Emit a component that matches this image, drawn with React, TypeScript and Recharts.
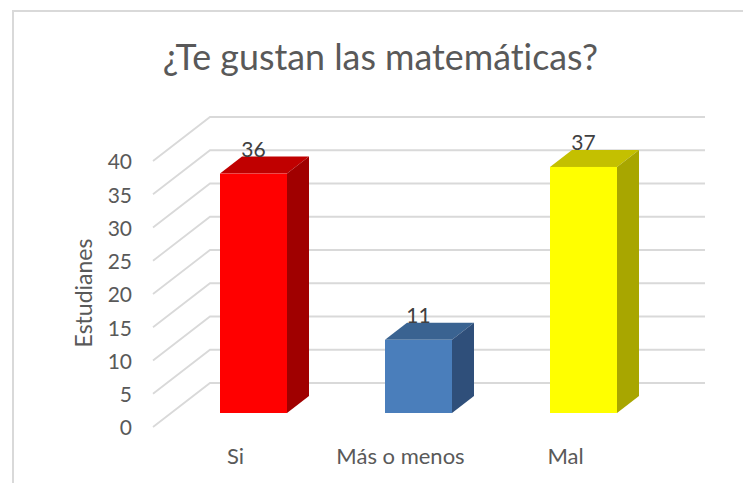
import { BarChart, Bar, XAxis, YAxis, ReferenceLine, LabelList } from 'recharts'

const categories = ['Si', 'Más o menos', 'Mal']
const estudiantes = [36, 11, 37]
const yTicks = [0, 5, 10, 15, 20, 25, 30, 35, 40]

const frontColours = ['#ff0000', '#4a7ebb', '#ffff00']
const topColours = ['#c00000', '#3a6391', '#c4c000']
const sideColours = ['#a00000', '#2f4f7a', '#a8a600']

const data = categories.map((name, i) => ({ name, value: estudiantes[i] }))

// how far the 3D box and the walls are pushed away from the bar plane
const DEPTH_X = 22
const DEPTH_Y = 17
const WALL_BACK_X = 39
const WALL_BACK_Y = 30
const WALL_FRONT_X = 18
const WALL_FRONT_Y = 14

const FONT = 'Lato, "Noto Sans", sans-serif'

function Box3D(props: any) {
  const { x, y, width, height, index } = props
  const r = x + width
  const b = y + height
  return (
    <g>
      <polygon
        points={`${x},${y} ${r},${y} ${r + DEPTH_X},${y - DEPTH_Y} ${x + DEPTH_X},${y - DEPTH_Y}`}
        fill={topColours[index]}
      />
      <polygon
        points={`${r},${y} ${r + DEPTH_X},${y - DEPTH_Y} ${r + DEPTH_X},${b - DEPTH_Y} ${r},${b}`}
        fill={sideColours[index]}
      />
      <rect x={x} y={y} width={width} height={height} fill={frontColours[index]} />
    </g>
  )
}

function WallLine(props: any) {
  const { x1, x2, y1 } = props
  const pts = [
    [x1 - WALL_FRONT_X, y1 + WALL_FRONT_Y],
    [x1 + WALL_BACK_X, y1 - WALL_BACK_Y],
    [x2 + WALL_BACK_X, y1 - WALL_BACK_Y],
  ]
  return <polyline points={pts.map((p) => p.join(',')).join(' ')} fill="none" stroke="#d9d9d9" strokeWidth={1.8} />
}

function YTick({ x, y, payload }: any) {
  return (
    <text x={x - 31} y={y + 15} dy="0.35em" textAnchor="end" fontSize={21} fontFamily={FONT} fill="#595959">
      {payload.value}
    </text>
  )
}

function XTick({ x, y, payload }: any) {
  return (
    <text x={x - 18} y={y + 35} dy="0.35em" textAnchor="middle" fontSize={22} fontFamily={FONT} fill="#595959">
      {payload.value}
    </text>
  )
}

export default function App() {
  return (
    <div style={{ position: 'absolute', left: 0, top: 0, width: 743, height: 483, overflow: 'hidden', background: '#fff' }}>
      <div
        style={{
          position: 'absolute',
          left: 12,
          top: 10,
          width: 731,
          height: 473,
          borderTop: '2px solid #d9d9d9',
          borderLeft: '2px solid #d9d9d9',
          boxSizing: 'border-box',
        }}
      />
      <div
        style={{
          position: 'absolute',
          left: 0,
          top: 37,
          width: 761,
          textAlign: 'center',
          fontFamily: FONT,
          fontSize: 35.8,
          lineHeight: '40px',
          fontVariantLigatures: 'none',
          color: '#595959',
        }}
      >
        ¿Te gustan las matemáticas?
      </div>
      <BarChart
        width={743}
        height={483}
        data={data}
        margin={{ top: 147, right: 77, bottom: 0, left: 0 }}
        style={{ position: 'absolute', left: 0, top: 0 }}
      >
        <XAxis dataKey="name" axisLine={false} tickLine={false} interval={0} tick={<XTick />} height={70} />
        <YAxis
          domain={[0, 40]}
          ticks={yTicks}
          width={171}
          axisLine={false}
          tickLine={false}
          tick={<YTick />}
          label={{
            value: 'Estudianes',
            angle: -90,
            position: 'insideLeft',
            offset: 84,
            dy: 13,
            style: { fontFamily: FONT, fontSize: 23, fill: '#595959', textAnchor: 'middle' },
          }}
        />
        {yTicks.map((t) => (
          <ReferenceLine key={t} y={t} shape={<WallLine />} zIndex={100} />
        ))}
        <Bar dataKey="value" barSize={67} shape={<Box3D />} isAnimationActive={false}>
          <LabelList
            dataKey="value"
            position="top"
            offset={17}
            style={{ fontFamily: FONT, fontSize: 21, fill: '#404040' }}
          />
        </Bar>
      </BarChart>
    </div>
  )
}
